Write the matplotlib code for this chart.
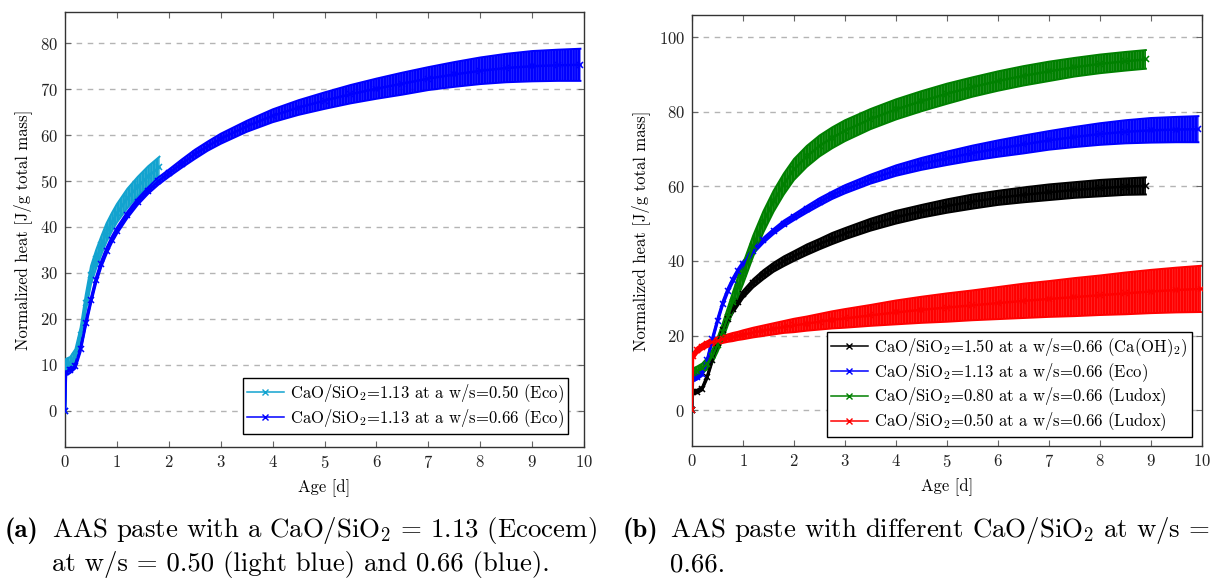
# normalized heat of AAS pastes, two panels with error bands
import matplotlib
matplotlib.use("Agg")
import matplotlib.pyplot as plt
from matplotlib.lines import Line2D
import numpy as np

plt.rcParams["font.family"] = "cmr10"
plt.rcParams["mathtext.fontset"] = "cm"
plt.rcParams["axes.formatter.use_mathtext"] = True
plt.rcParams["axes.unicode_minus"] = False
plt.rcParams["hatch.linewidth"] = 1.8

# panel (a): CaO/SiO2 = 1.13, w/s = 0.50 (light blue)
days_lb = [0, 0.02, 0.1, 0.2, 0.3, 0.4, 0.5, 0.6, 0.7, 0.8, 0.9, 1.0, 1.2, 1.4, 1.6, 1.82]
mean_lb = [0, 9.5, 10.3, 12.0, 16.5, 23.5, 29.5, 33.0, 36.0, 38.8, 41.0, 43.0, 46.2, 48.8, 51.0, 53.0]
err_lb = [0, 1.8, 1.4, 1.4, 1.6, 1.8, 2.0, 2.0, 2.0, 2.0, 2.0, 2.0, 2.1, 2.1, 2.2, 2.3]

# CaO/SiO2 = 1.13, w/s = 0.66 (Eco), in both panels
days_b = [0, 0.02, 0.1, 0.2, 0.3, 0.4, 0.5, 0.6, 0.7, 0.8, 0.9, 1.0, 1.2, 1.4, 1.6, 1.8,
          2.0, 2.25, 2.5, 2.75, 3.0, 3.5, 4.0, 4.5, 5.0, 5.5, 6.0, 6.5, 7.0, 7.5, 8.0,
          8.5, 9.0, 9.5, 9.93]
mean_b = [0, 8.5, 8.8, 9.8, 13.5, 19.0, 24.0, 28.5, 32.0, 34.8, 37.2, 39.2, 42.6, 45.5,
          47.9, 50.0, 51.7, 53.8, 55.8, 57.6, 59.2, 61.9, 64.2, 66.0, 67.5, 68.9, 70.1,
          71.2, 72.3, 73.2, 74.0, 74.6, 75.0, 75.2, 75.3]
err_b = [0, 0.8, 0.6, 0.6, 0.7, 0.7, 0.7, 0.7, 0.7, 0.7, 0.7, 0.7, 0.7, 0.7, 0.7, 0.8,
         0.8, 0.9, 1.0, 1.0, 1.1, 1.2, 1.4, 1.6, 1.8, 2.0, 2.2, 2.4, 2.5, 2.7, 2.9, 3.1,
         3.3, 3.4, 3.5]

# panel (b): CaO/SiO2 = 1.50 (Ca(OH)2) and 0.80 (Ludox)
days_kg = [0, 0.02, 0.1, 0.2, 0.3, 0.4, 0.5, 0.6, 0.7, 0.8, 0.9, 1.0, 1.2, 1.4, 1.6, 1.8,
           2.0, 2.25, 2.5, 2.75, 3.0, 3.5, 4.0, 4.5, 5.0, 5.5, 6.0, 6.5, 7.0, 7.5, 8.0,
           8.5, 8.9]
mean_k = [0, 4.8, 5.0, 5.8, 9.0, 13.5, 18.0, 21.5, 24.5, 27.0, 29.0, 31.0, 34.0, 36.3,
          38.3, 39.9, 41.3, 43.0, 44.5, 46.0, 47.3, 49.7, 51.7, 53.3, 54.7, 55.9, 56.9,
          57.7, 58.4, 59.0, 59.5, 59.9, 60.1]
err_k = [0, 0.5, 0.5, 0.5, 0.6, 0.7, 0.8, 0.9, 0.9, 1.0, 1.0, 1.0, 1.1, 1.2, 1.2, 1.3,
         1.3, 1.4, 1.4, 1.5, 1.5, 1.6, 1.7, 1.7, 1.8, 1.9, 1.9, 2.0, 2.1, 2.1, 2.2, 2.2, 2.3]
mean_g = [0, 10.0, 10.5, 11.2, 12.5, 14.5, 17.5, 21.0, 25.0, 29.0, 33.0, 36.5, 44.0, 50.5,
          56.0, 60.6, 64.5, 68.0, 70.8, 73.0, 74.9, 78.0, 80.6, 82.8, 84.8, 86.6, 88.2,
          89.6, 90.8, 91.9, 92.8, 93.5, 94.0]
err_g = [0, 1.2, 1.2, 1.3, 1.5, 1.7, 1.9, 2.1, 2.3, 2.5, 2.6, 2.7, 2.8, 2.8, 2.8, 2.8,
         2.8, 2.8, 2.8, 2.8, 2.8, 2.7, 2.7, 2.7, 2.7, 2.6, 2.6, 2.6, 2.6, 2.5, 2.5, 2.5, 2.5]

# CaO/SiO2 = 0.50 (Ludox)
days_r = [0, 0.02, 0.1, 0.2, 0.3, 0.4, 0.5, 0.6, 0.7, 0.8, 0.9, 1.0, 1.2, 1.4, 1.6, 1.8,
          2.0, 2.25, 2.5, 2.75, 3.0, 3.5, 4.0, 4.5, 5.0, 5.5, 6.0, 6.5, 7.0, 7.5, 8.0,
          8.5, 9.0, 9.5, 9.98]
mean_r = [0, 14.5, 16.0, 17.0, 17.7, 18.2, 18.6, 19.0, 19.3, 19.6, 19.9, 20.2, 20.8, 21.3,
          21.8, 22.3, 22.7, 23.2, 23.7, 24.2, 24.6, 25.4, 26.2, 26.9, 27.5, 28.1, 28.7,
          29.3, 29.8, 30.3, 30.8, 31.3, 31.8, 32.2, 32.5]
err_r = [0, 0.8, 0.8, 0.8, 0.8, 0.9, 0.9, 1.0, 1.0, 1.1, 1.1, 1.2, 1.3, 1.4, 1.5, 1.6,
         1.8, 1.9, 2.1, 2.3, 2.5, 2.8, 3.2, 3.5, 3.8, 4.0, 4.3, 4.6, 4.8, 5.1, 5.3, 5.6,
         5.8, 6.0, 6.2]

labels_a = [r"CaO/SiO$_2$=1.13 at a w/s=0.50 (Eco)", r"CaO/SiO$_2$=1.13 at a w/s=0.66 (Eco)"]
labels_b = [r"CaO/SiO$_2$=1.50 at a w/s=0.66 (Ca(OH)$_2$)",
            r"CaO/SiO$_2$=1.13 at a w/s=0.66 (Eco)",
            r"CaO/SiO$_2$=0.80 at a w/s=0.66 (Ludox)",
            r"CaO/SiO$_2$=0.50 at a w/s=0.66 (Ludox)"]


def draw(ax, x, m, e, color, label):
    x, m, e = np.asarray(x), np.asarray(m), np.asarray(e)
    lo, hi = m - e, m + e
    rgb = matplotlib.colors.to_rgb(color)
    ax.fill_between(x, lo, hi, facecolor=rgb + (0.55,), edgecolor=color,
                    hatch="||||||", linewidth=0, zorder=2)
    ax.plot(x, lo, color=color, lw=1.4, zorder=3)
    ax.plot(x, hi, color=color, lw=1.4, zorder=3)
    ax.plot(x, m, color=color, lw=1.8, marker="x", ms=4.5, mew=1.1, zorder=4)
    # thinner line for the legend entry
    return Line2D([], [], color=color, lw=1.1, marker="x", ms=4, mew=1.0, label=label)


def style(ax, ylim, yticks):
    ax.set_xlim(0, 10)
    ax.set_ylim(*ylim)
    ax.set_xticks(range(0, 11))
    ax.set_yticks(yticks)
    ax.tick_params(direction="in", top=True, right=True, length=4, width=0.8,
                   color="#666666", labelsize=12, labelcolor="#222222", pad=5)
    ax.yaxis.grid(True, ls=(0, (4, 4)), color="#b4b4b4", lw=1.0)
    ax.set_axisbelow(True)
    for s in ax.spines.values():
        s.set_color("#333333")
        s.set_linewidth(1.0)
    ax.set_xlabel("Age [d]", fontsize=12, labelpad=6)
    ax.set_ylabel("Normalized heat [J/g total mass]", fontsize=12, labelpad=6)


def add_legend(ax, handles, anchor):
    leg = ax.legend(handles=handles, loc="lower right", bbox_to_anchor=anchor,
                    borderaxespad=0, fancybox=False, edgecolor="black", framealpha=1,
                    fontsize=12, handlelength=2.2, handletextpad=0.4, borderpad=0.25,
                    labelspacing=0.12)
    leg.get_frame().set_linewidth(1.0)


fig = plt.figure(figsize=(12.13, 5.79), dpi=100)
ax1 = fig.add_axes([0.0536, 0.228, 0.4279, 0.7513])
ax2 = fig.add_axes([0.5705, 0.2297, 0.4204, 0.7444])

h1 = draw(ax1, days_lb, mean_lb, err_lb, "#12A3CF", labels_a[0])
h2 = draw(ax1, days_b, mean_b, err_b, "#0000FF", labels_a[1])
style(ax1, (-7.9, 86.8), range(0, 81, 10))
add_legend(ax1, [h1, h2], (0.97, 0.03))

g1 = draw(ax2, days_kg, mean_k, err_k, "#000000", labels_b[0])
g2 = draw(ax2, days_b, mean_b, err_b, "#0000FF", labels_b[1])
g3 = draw(ax2, days_kg, mean_g, err_g, "#008000", labels_b[2])
g4 = draw(ax2, days_r, mean_r, err_r, "#FF0000", labels_b[3])
style(ax2, (-9.6, 105.9), range(0, 101, 20))
add_legend(ax2, [g1, g2, g3, g4], (0.98, 0.02))

# captions
cap = 19.3
fig.text(0.004, 0.072, "(a)", fontsize=cap, family="cmb10")
fig.text(0.043, 0.072, r"AAS paste with a CaO/SiO$_2$ = 1.13 (Ecocem)", fontsize=cap)
fig.text(0.043, 0.013, "at w/s = 0.50 (light blue) and 0.66 (blue).", fontsize=cap)
fig.text(0.513, 0.072, "(b)", fontsize=cap, family="cmb10")
fig.text(0.552, 0.072, r"AAS paste with different CaO/SiO$_2$ at w/s =", fontsize=cap)
fig.text(0.552, 0.013, "0.66.", fontsize=cap)

fig.savefig("out.png", dpi=100)
